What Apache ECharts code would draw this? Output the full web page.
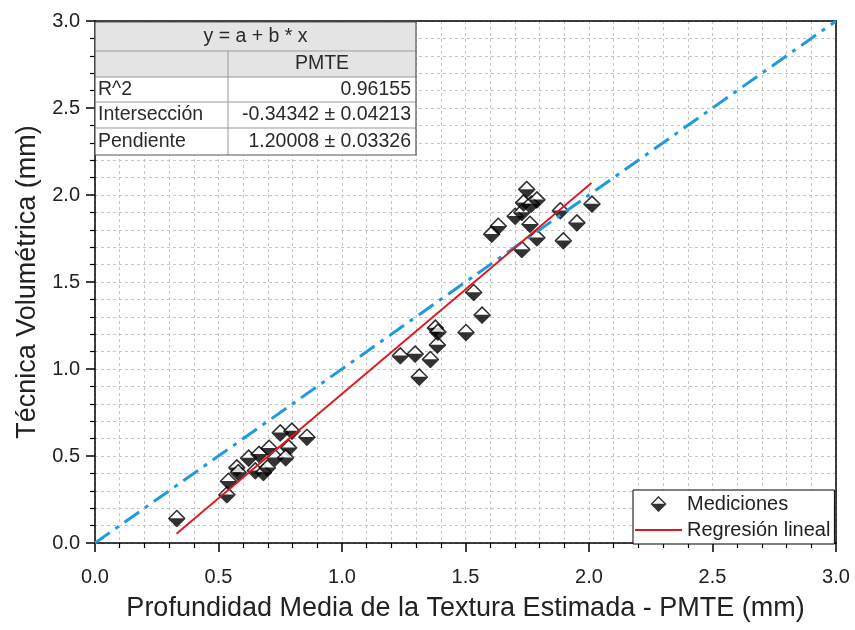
<!DOCTYPE html>
<html>
<head>
<meta charset="utf-8">
<script src="https://cdn.jsdelivr.net/npm/echarts@6/dist/echarts.min.js"></script>
<style>html,body{margin:0;padding:0;background:#fff}#c{width:855px;height:630px}</style>
</head>
<body>
<div id="c"></div>
<script>
// Mediciones (PMTE, Técnica Volumétrica)
const medX = [0.331,0.534,0.540,0.574,0.580,0.622,0.649,0.664,0.682,0.698,0.705,0.730,0.750,0.797,0.784,0.772,0.858,
  1.236,1.296,1.313,1.358,1.386,1.378,1.388,1.502,1.567,1.533,
  1.606,1.633,1.701,1.728,1.735,1.748,1.766,1.789,1.761,1.789,1.728,1.884,1.896,1.951,2.012];
const medY = [0.141,0.277,0.355,0.432,0.405,0.488,0.415,0.510,0.405,0.432,0.545,0.490,0.633,0.643,0.547,0.490,0.608,
  1.076,1.086,0.954,1.055,1.138,1.235,1.212,1.210,1.310,1.440,
  1.775,1.821,1.878,1.900,1.955,2.032,1.948,1.972,1.832,1.754,1.687,1.910,1.737,1.840,1.948];
// Regresión lineal endpoints
const regX = [0.33, 2.01];
const regY = [0.053, 2.069];
// Línea 1:1
const idX = [0, 3];
const idY = [0, 3];
// Axis ticks
const xTicks = ['0.0','0.5','1.0','1.5','2.0','2.5','3.0'];
const yTicks = ['0.0','0.5','1.0','1.5','2.0','2.5','3.0'];
// Table
const tableTitle = 'y = a + b * x';
const tableCol = 'PMTE';
const tableRows = [['R^2','0.96155'],['Intersección','-0.34342 ± 0.04213'],['Pendiente','1.20008 ± 0.03326']];

const FONT = '"Liberation Sans", Arial, sans-serif';
const svg = "<svg xmlns='http://www.w3.org/2000/svg' width='34' height='34' viewBox='0 0 34 34'>" +
  "<path d='M17 2 L32 17 L2 17 Z' fill='white'/>" +
  "<path d='M2 16.5 L32 16.5 L17 32 Z' fill='black'/>" +
  "<path d='M17 2 L32 17 L17 32 L2 17 Z' fill='none' stroke='black' stroke-width='3' stroke-linejoin='miter'/></svg>";
const markerIcon = 'image://data:image/svg+xml;charset=utf-8,' + encodeURIComponent(svg);
const lineSvg = "<svg xmlns='http://www.w3.org/2000/svg' width='47' height='16' viewBox='0 0 47 16'>" +
  "<line x1='0' y1='8' x2='47' y2='8' stroke='#e0151b' stroke-width='2'/></svg>";
const lineIcon = 'image://data:image/svg+xml;charset=utf-8,' + encodeURIComponent(lineSvg);

const gl = {left:95, top:21, right:19, bottom:87};
const gridColor = '#c6c6c6';

function axisCommon(labels, isX) {
  return {
    type: 'value', min: 0, max: 3, interval: 0.5,
    axisLine: {show: true, onZero: false, lineStyle: {color: '#000', width: 1.5}},
    axisTick: {show: true, inside: false, length: 9, lineStyle: {color: '#000', width: 1.5}},
    minorTick: {show: true, splitNumber: 5, length: 5, lineStyle: {color: '#000', width: 1.2}},
    splitLine: {show: true, lineStyle: {color: gridColor, type: [3, 3], width: 1}},
    minorSplitLine: {show: true, lineStyle: {color: gridColor, type: [3, 3], width: 1}},
    axisLabel: {
      fontFamily: FONT, fontSize: 20, color: '#222', margin: isX ? 24 : 15,
      formatter: v => labels[Math.round(v / 0.5)]
    }
  };
}
function frameAxis(pos) {
  return {
    type: 'value', min: 0, max: 3, interval: 0.5, position: pos,
    axisLine: {show: true, onZero: false, lineStyle: {color: '#000', width: 1.5}},
    axisTick: {show: false}, axisLabel: {show: false}, splitLine: {show: false}
  };
}

const rowsY = [22, 51, 77, 102, 128, 155];
const tL = 95, tM = 228, tR = 416;
const g = [];
g.push({type:'rect', shape:{x:tL, y:rowsY[0], width:tR-tL, height:rowsY[5]-rowsY[0]}, style:{fill:'#fff', stroke:'none'}, z:100});
g.push({type:'rect', shape:{x:tL, y:rowsY[0], width:tR-tL, height:rowsY[2]-rowsY[0]}, style:{fill:'#e4e4e4', stroke:'none'}, z:101});
for (let i = 1; i < 5; i++) {
  g.push({type:'line', shape:{x1:tL, y1:rowsY[i], x2:tR, y2:rowsY[i]}, style:{stroke:'#9a9a9a', lineWidth:1}, z:102});
}
g.push({type:'line', shape:{x1:tM, y1:rowsY[1], x2:tM, y2:rowsY[5]}, style:{stroke:'#9a9a9a', lineWidth:1}, z:102});
g.push({type:'rect', shape:{x:tL, y:rowsY[0], width:tR-tL, height:rowsY[5]-rowsY[0]}, style:{fill:'none', stroke:'#555', lineWidth:1.2}, z:103});
const tf = {fontFamily: FONT, fontSize: 19.5, fill: '#2a2a2a'};
g.push({type:'text', x:(tL+tR)/2, y:(rowsY[0]+rowsY[1])/2, style:Object.assign({text:tableTitle, align:'center', verticalAlign:'middle'}, tf), z:104});
g.push({type:'text', x:(tM+tR)/2, y:(rowsY[1]+rowsY[2])/2, style:Object.assign({text:tableCol, align:'center', verticalAlign:'middle'}, tf), z:104});
tableRows.forEach((r, i) => {
  const cy = (rowsY[i+2] + rowsY[i+3]) / 2;
  g.push({type:'text', x:tL+3, y:cy, style:Object.assign({text:r[0], align:'left', verticalAlign:'middle'}, tf), z:104});
  g.push({type:'text', x:tR-5, y:cy, style:Object.assign({text:r[1], align:'right', verticalAlign:'middle'}, tf), z:104});
});

const chart = echarts.init(document.getElementById('c'), null, {renderer: 'canvas'});
chart.setOption({
  animation: false,
  backgroundColor: '#fff',
  grid: Object.assign({show: false}, gl),
  xAxis: [Object.assign(axisCommon(xTicks, true), {
    position: 'bottom',
    name: 'Profundidad Media de la Textura Estimada - PMTE (mm)', nameLocation: 'middle', nameGap: 52,
    nameTextStyle: {fontFamily: FONT, fontSize: 27, color: '#222'}
  }), frameAxis('top')],
  yAxis: [Object.assign(axisCommon(yTicks, false), {
    position: 'left',
    name: 'Técnica Volumétrica (mm)', nameLocation: 'middle', nameGap: 48,
    nameTextStyle: {fontFamily: FONT, fontSize: 27, color: '#222'}
  }), frameAxis('right')],
  legend: {
    orient: 'vertical', left: 633, top: 490,
    padding: [4, 4, 4, 2], itemGap: 6, itemWidth: 47, itemHeight: 16,
    borderColor: '#000', borderWidth: 1, backgroundColor: '#fff',
    textStyle: {fontFamily: FONT, fontSize: 20, color: '#222'},
    data: [{name: 'Mediciones', icon: markerIcon}, {name: 'Regresión lineal', icon: lineIcon}]
  },
  graphic: g,
  series: [
    {
      name: 'Mediciones', type: 'scatter', symbol: markerIcon, symbolSize: 18, z: 2,
      data: medX.map((x, i) => [x, medY[i]])
    },
    {
      name: 'Línea 1:1', type: 'line', showSymbol: false, symbol: 'none', z: 3,
      lineStyle: {color: '#1e9be0', width: 3, type: [18, 7, 4, 7]},
      data: idX.map((x, i) => [x, idY[i]])
    },
    {
      name: 'Regresión lineal', type: 'line', showSymbol: false, symbol: 'none', z: 4,
      lineStyle: {color: '#e0151b', width: 1.8},
      itemStyle: {color: '#e0151b'},
      data: regX.map((x, i) => [x, regY[i]])
    }
  ]
});
</script>
</body>
</html>
